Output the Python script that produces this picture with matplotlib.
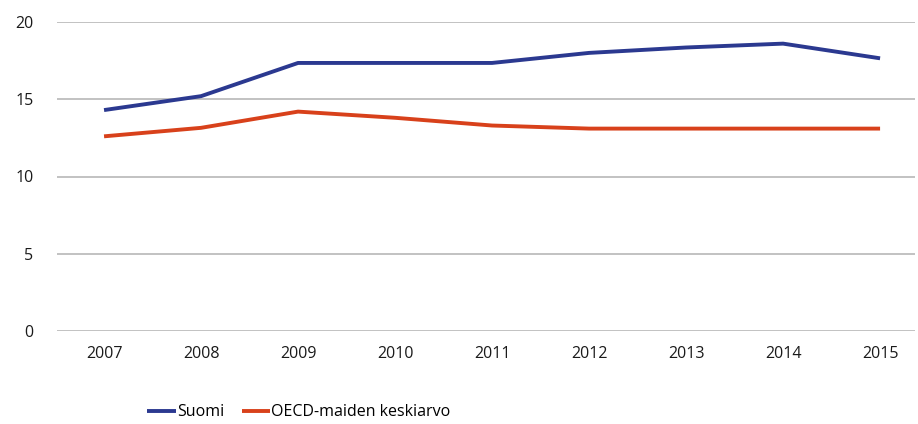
import matplotlib
matplotlib.use("Agg")
import matplotlib.pyplot as plt

years = ["2007", "2008", "2009", "2010", "2011", "2012", "2013", "2014", "2015"]
suomi = [14.3, 15.2, 17.35, 17.35, 17.35, 18.0, 18.35, 18.6, 17.65]
oecd = [12.6, 13.15, 14.2, 13.8, 13.3, 13.1, 13.1, 13.1, 13.1]
yticks = [0, 5, 10, 15, 20]

plt.rcParams['font.family'] = ['Open Sans', 'DejaVu Sans']

fig = plt.figure(figsize=(9.18, 4.24), dpi=100)
ax = fig.add_axes([57/918, 93/424, (915-57)/918, (331-22)/424])
x = list(range(len(years)))
ax.plot(x, suomi, color="#2B3990", lw=2.8, label="Suomi", solid_capstyle='butt')
ax.plot(x, oecd, color="#D8411B", lw=2.8, label="OECD-maiden keskiarvo", solid_capstyle='butt')
ax.set_xlim(-0.485, 8.36)
ax.set_ylim(0, 20)
ax.set_yticks(yticks)
ax.set_xticks(x)
ax.set_xticklabels(years)
for s in ax.spines.values():
    s.set_visible(False)
ax.grid(axis='y', color="#BDBDBD", lw=1.3)
ax.set_axisbelow(True)
ax.tick_params(axis='both', length=0, labelsize=11.5, colors="#1a1a1a")
ax.tick_params(axis='y', pad=17)
ax.tick_params(axis='x', pad=11)
fig.legend(loc='lower left', bbox_to_anchor=(133/918, -0.025), ncol=2, frameon=False,
           fontsize=11.5, handlelength=1.8, handletextpad=0.05, columnspacing=1.1)
fig.savefig("out.png", dpi=100)
